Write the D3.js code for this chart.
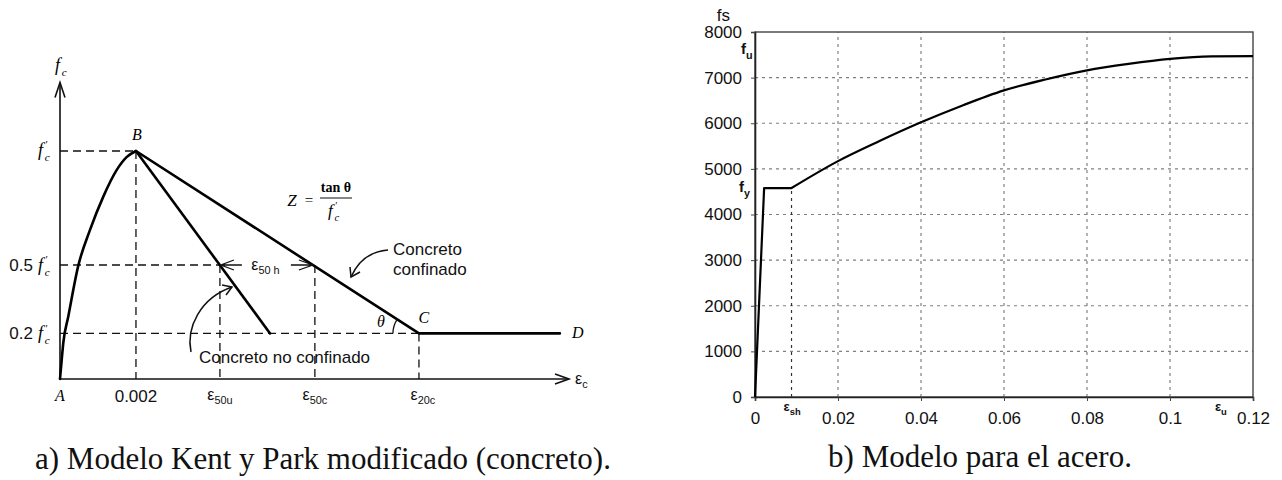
<!DOCTYPE html>
<html>
<head>
<meta charset="utf-8">
<script src="https://cdn.jsdelivr.net/npm/d3@7"></script>
<style>
  body { margin: 0; background: #fff; }
  svg { display: block; }
</style>
</head>
<body>
<svg id="chart" width="1282" height="480"></svg>
<script>
// ---------- Kent & Park (modified) concrete model: strain, stress / f'c ----------
const ascStrain    = [0, 0.000045, 0.000087, 0.000218, 0.00048, 0.00079, 0.00114, 0.00149, 0.00176, 0.002];
const ascStress    = [0, 0.084, 0.159, 0.274, 0.496, 0.654, 0.80, 0.916, 0.974, 1.0];
const unconfStrain = [0.002, 0.00553];
const unconfStress = [1.0, 0.2];
const confStrain   = [0.002, 0.00945, 0.01316];
const confStress   = [1.0, 0.2, 0.2];
const eps0 = 0.002, eps50u = 0.00421, eps50c = 0.00671, eps20c = 0.00945;
const concreteLevels = [1.0, 0.5, 0.2];
const concreteLevelLabels = ["", "0.5", "0.2"];

// ---------- steel model: strain, stress ----------
const steelStrain = [0, 0.0022, 0.0088, 0.02, 0.03, 0.04, 0.05, 0.06, 0.07, 0.08, 0.09, 0.10, 0.11, 0.12];
const steelStress = [0, 4580, 4580, 5170, 5610, 6020, 6390, 6720, 6960, 7160, 7300, 7410, 7465, 7470];
const steelXTicks = [0, 0.02, 0.04, 0.06, 0.08, 0.1, 0.12];
const steelYTicks = [0, 1000, 2000, 3000, 4000, 5000, 6000, 7000, 8000];
const fy = 4580, fu = 7470, epsSh = 0.0088, epsU = 0.1125;

const SANS = "'Liberation Sans', Arial, Helvetica, sans-serif";
const SERIF = "'Liberation Serif', 'Times New Roman', serif";

const svg = d3.select("#chart");

// ================= a) concrete =================
const gA = svg.append("g");
const xA = d3.scaleLinear().domain([0, 0.0134]).range([60, 569]);
const yA = d3.scaleLinear().domain([0, 1]).range([379, 151]);

const lineA = d3.line().x(d => xA(d[0])).y(d => yA(d[1]));
const zip = (a, b) => a.map((v, i) => [v, b[i]]);

// dashed guide lines
const dash = gA.append("g").attr("stroke", "#111").attr("stroke-width", 1.3)
  .attr("stroke-dasharray", "8,5").attr("fill", "none");
const guides = [
  [[0, 1.0], [eps0, 1.0]],
  [[eps0, 1.0], [eps0, 0]],
  [[0, 0.5], [eps50u, 0.5]],
  [[eps50u, 0.5], [eps50u, 0]],
  [[eps50c, 0.5], [eps50c, 0]],
  [[0, 0.2], [eps20c, 0.2]],
  [[eps20c, 0.2], [eps20c, 0]]
];
guides.forEach(g => dash.append("path").attr("d", lineA(g)));

// axes with open arrow heads
const axA = gA.append("g").attr("stroke", "#111").attr("stroke-width", 1.6).attr("fill", "none");
axA.append("path").attr("d", lineA([[0, 0], [0, 1.3]]));
axA.append("path").attr("d", `M${xA(0) - 5},${yA(1.3) + 15}L${xA(0)},${yA(1.3)}L${xA(0) + 5},${yA(1.3) + 15}`);
axA.append("path").attr("d", lineA([[0, 0], [0.0134, 0]]));
axA.append("path").attr("d", `M${xA(0.0134) - 14},${yA(0) - 5}L${xA(0.0134)},${yA(0)}L${xA(0.0134) - 14},${yA(0) + 5}`);

// stress-strain curves
const curves = gA.append("g").attr("stroke", "#000").attr("stroke-width", 2.6).attr("fill", "none")
  .attr("stroke-linejoin", "round").attr("stroke-linecap", "round");
curves.append("path").attr("d", d3.line().x(d => xA(d[0])).y(d => yA(d[1])).curve(d3.curveMonotoneX)(zip(ascStrain, ascStress)));
curves.append("path").attr("d", lineA(zip(unconfStrain, unconfStress)));
curves.append("path").attr("d", lineA(zip(confStrain, confStress)));

// helper: italic f with prime and subscript c
function fpc(g, x, y, size, prime = true) {
  const t = g.append("g").attr("transform", `translate(${x},${y})`);
  t.append("text").attr("font-family", SERIF).attr("font-style", "italic")
    .attr("font-size", size).text("f");
  if (prime) t.append("text").attr("x", size * 0.42).attr("y", -size * 0.42)
    .attr("font-family", SERIF).attr("font-size", size * 0.6).text("′");
  t.append("text").attr("x", size * 0.38).attr("y", size * 0.28)
    .attr("font-family", SERIF).attr("font-style", "italic").attr("font-size", size * 0.62).text("c");
  return t;
}
// helper: epsilon with subscript
function epsLabel(g, x, y, sub, size, anchor = "middle") {
  const t = g.append("text").attr("x", x).attr("y", y).attr("text-anchor", anchor)
    .attr("font-family", SANS).attr("font-size", size).attr("fill", "#111");
  t.append("tspan").text("ε");
  t.append("tspan").attr("font-size", size * 0.68).attr("dy", size * 0.25).text(sub);
  return t;
}

// y-axis label and level labels
fpc(gA, xA(0) - 5, yA(1.3) - 12, 18, false);
fpc(gA, 38, yA(1.0) + 5, 18);
concreteLevels.forEach((v, i) => {
  if (!concreteLevelLabels[i]) return;
  gA.append("text").attr("x", 33).attr("y", yA(v) + 6).attr("text-anchor", "end")
    .attr("font-family", SANS).attr("font-size", 17).attr("fill", "#111").text(concreteLevelLabels[i]);
  fpc(gA, 38, yA(v) + 6, 18);
});

// x-axis labels
gA.append("text").attr("x", xA(0)).attr("y", yA(0) + 22).attr("text-anchor", "middle")
  .attr("font-family", SERIF).attr("font-style", "italic").attr("font-size", 16).text("A");
gA.append("text").attr("x", xA(eps0)).attr("y", yA(0) + 23).attr("text-anchor", "middle")
  .attr("font-family", SANS).attr("font-size", 17).attr("fill", "#111").text("0.002");
epsLabel(gA, xA(eps50u), yA(0) + 21, "50u", 16);
epsLabel(gA, xA(eps50c), yA(0) + 21, "50c", 16);
epsLabel(gA, xA(eps20c) + 4, yA(0) + 21, "20c", 16);
epsLabel(gA, xA(0.0134) + 6, yA(0) + 5, "c", 16, "start");

// point letters
const pt = (txt, x, y) => gA.append("text").attr("x", x).attr("y", y).attr("text-anchor", "middle")
  .attr("font-family", SERIF).attr("font-style", "italic").attr("font-size", 16).text(txt);
pt("B", xA(eps0) + 1, yA(1.0) - 11);
pt("C", xA(eps20c) + 5, yA(0.2) - 10);
pt("D", xA(0.01316) + 18, yA(0.2) + 5);

// angle theta at C
const thetaAng = Math.atan2(yA(0.2) - yA(1.0), xA(eps20c) - xA(eps0));
const rArc = 26;
gA.append("path").attr("fill", "none").attr("stroke", "#111").attr("stroke-width", 1.3)
  .attr("d", `M${xA(eps20c) - rArc},${yA(0.2)}A${rArc},${rArc} 0 0 1 ${xA(eps20c) - rArc * Math.cos(thetaAng)},${yA(0.2) - rArc * Math.sin(thetaAng)}`);
gA.append("text").attr("x", xA(eps20c) - 38).attr("y", yA(0.2) - 6).attr("text-anchor", "middle")
  .attr("font-family", SERIF).attr("font-style", "italic").attr("font-size", 16).text("θ");

// epsilon 50h between the two descending branches
const y50 = yA(0.5);
const arr = gA.append("g").attr("stroke", "#111").attr("stroke-width", 1.3).attr("fill", "none");
arr.append("path").attr("d", `M${xA(eps50u) + 14},${y50 - 5}L${xA(eps50u) + 1},${y50}L${xA(eps50u) + 14},${y50 + 5}M${xA(eps50u) + 1},${y50}H${xA(eps50u) + 22}`);
arr.append("path").attr("d", `M${xA(eps50c) - 16},${y50 - 5}L${xA(eps50c) - 2},${y50}L${xA(eps50c) - 16},${y50 + 5}M${xA(eps50c) - 2},${y50}H${xA(eps50c) - 24}`);
epsLabel(gA, (xA(eps50u) + xA(eps50c)) / 2 - 2, y50 + 5, "50 h", 16);

// Z = tan θ / f'c
gA.append("text").attr("x", 292).attr("y", 206).attr("text-anchor", "middle")
  .attr("font-family", SERIF).attr("font-style", "italic").attr("font-size", 17).text("Z");
gA.append("text").attr("x", 309).attr("y", 205).attr("text-anchor", "middle")
  .attr("font-family", SERIF).attr("font-size", 15).text("=");
gA.append("text").attr("x", 336).attr("y", 192).attr("text-anchor", "middle")
  .attr("font-family", SERIF).attr("font-size", 14).attr("font-weight", "bold").text("tan θ");
gA.append("line").attr("x1", 320).attr("x2", 352).attr("y1", 198).attr("y2", 198)
  .attr("stroke", "#111").attr("stroke-width", 1);
fpc(gA, 328, 216, 17);

// annotations with curved arrows
const ann = gA.append("g").attr("font-family", SANS).attr("font-size", 17).attr("fill", "#111");
ann.append("text").attr("x", 393).attr("y", 255).text("Concreto");
ann.append("text").attr("x", 393).attr("y", 275).text("confinado");
ann.append("text").attr("x", 199).attr("y", 363).text("Concreto no confinado");

const ar = gA.append("g").attr("stroke", "#111").attr("stroke-width", 1.5).attr("fill", "none");
// to the confined branch
const tipC = [351, 277];
ar.append("path").attr("d", `M388,250Q362,252 ${tipC[0]},${tipC[1]}`);
ar.append("path").attr("d", `M${tipC[0] - 1},${tipC[1] - 10}L${tipC[0]},${tipC[1]}L${tipC[0] + 9},${tipC[1] - 5}`);
// to the unconfined branch
const tipU = [232, 287];
ar.append("path").attr("d", `M191,352C186,328 200,298 ${tipU[0]},${tipU[1]}`);
ar.append("path").attr("d", `M${tipU[0] - 10},${tipU[1] - 2}L${tipU[0]},${tipU[1]}L${tipU[0] - 6},${tipU[1] + 8}`);

// ================= b) steel =================
const gB = svg.append("g");
const xB = d3.scaleLinear().domain([0, 0.12]).range([755, 1253]);
const yB = d3.scaleLinear().domain([0, 8000]).range([397, 32]);

// dotted grid
const grid = gB.append("g").attr("stroke", "#808080").attr("stroke-width", 1.2)
  .attr("stroke-dasharray", "3,4");
steelXTicks.slice(1, -1).forEach(v => grid.append("line")
  .attr("x1", xB(v)).attr("x2", xB(v)).attr("y1", yB(0)).attr("y2", yB(8000)));
steelYTicks.slice(1, -1).forEach(v => grid.append("line")
  .attr("x1", xB(0)).attr("x2", xB(0.12)).attr("y1", yB(v)).attr("y2", yB(v)));
grid.append("line").attr("stroke", "#333")
  .attr("x1", xB(epsSh)).attr("x2", xB(epsSh)).attr("y1", yB(0)).attr("y2", yB(fy));

// frame
gB.append("rect").attr("x", xB(0)).attr("y", yB(8000)).attr("width", xB(0.12) - xB(0))
  .attr("height", yB(0) - yB(8000)).attr("fill", "none").attr("stroke", "#444").attr("stroke-width", 1.4);

// axes
const axB = gB.append("g").attr("transform", `translate(0,${yB(0)})`)
  .call(d3.axisBottom(xB).tickValues(steelXTicks).tickFormat(d => String(d)).tickSize(4).tickPadding(11));
const ayB = gB.append("g").attr("transform", `translate(${xB(0)},0)`)
  .call(d3.axisLeft(yB).tickValues(steelYTicks).tickFormat(d => String(d)).tickSize(4).tickPadding(9));
[axB, ayB].forEach(a => {
  a.select(".domain").attr("stroke", "#222").attr("stroke-width", 1.6);
  a.selectAll(".tick line").attr("stroke", "#444");
  a.selectAll("text").attr("font-family", SANS).attr("font-size", 17).attr("fill", "#111");
});

// stress-strain curve
const lineB = d3.line().x(d => xB(d[0])).y(d => yB(d[1]));
const pts = zip(steelStrain, steelStress);
gB.append("path").attr("fill", "none").attr("stroke", "#000").attr("stroke-width", 2.2)
  .attr("stroke-linejoin", "round")
  .attr("d", lineB(pts.slice(0, 3)) + lineB.curve(d3.curveMonotoneX)(pts.slice(2)).replace(/^M[^LC]*/, ""));

// labels
const lab = gB.append("g").attr("font-family", SANS).attr("fill", "#111");
lab.append("text").attr("x", 730).attr("y", 21).attr("text-anchor", "end").attr("font-size", 17).text("fs");
function subLabel(x, y, main, sub, size) {
  const t = lab.append("text").attr("x", x).attr("y", y).attr("font-weight", "bold").attr("font-size", size);
  t.append("tspan").text(main);
  t.append("tspan").attr("font-size", size * 0.72).attr("dy", size * 0.3).text(sub);
}
subLabel(741, yB(fu) - 2, "f", "u", 15);
subLabel(739, yB(fy) + 4, "f", "y", 15);
subLabel(xB(epsSh) - 8, yB(0) + 14, "ε", "sh", 13);
subLabel(xB(epsU) - 7, yB(0) + 14, "ε", "u", 13);

// ================= captions =================
svg.append("text").attr("x", 35).attr("y", 469).attr("font-family", SERIF).attr("font-size", 31)
  .attr("fill", "#111").text("a) Modelo Kent y Park modificado (concreto).");
svg.append("text").attr("x", 980).attr("y", 467).attr("text-anchor", "middle").attr("font-family", SERIF)
  .attr("font-size", 31).attr("fill", "#111").text("b) Modelo para el acero.");
</script>
</body>
</html>
